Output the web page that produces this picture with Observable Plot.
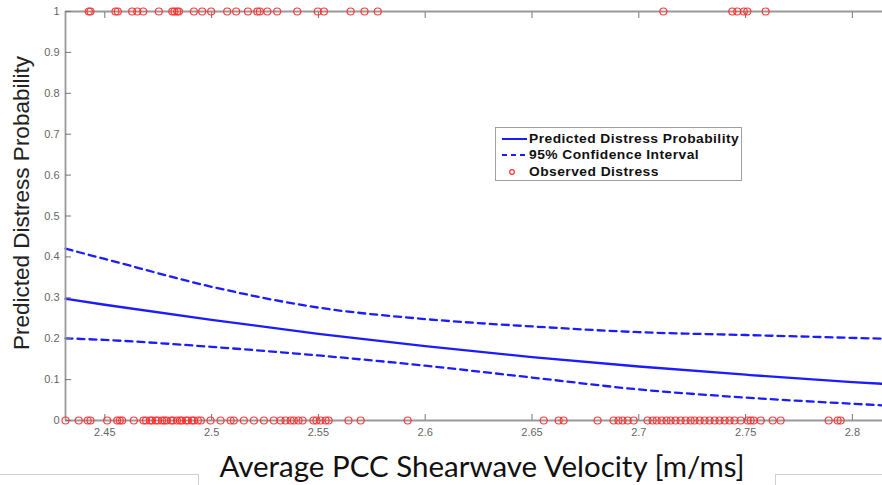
<!DOCTYPE html>
<html>
<head>
<meta charset="utf-8">
<script src="https://cdn.jsdelivr.net/npm/d3@7"></script>
<script src="https://cdn.jsdelivr.net/npm/@observablehq/plot@0.6"></script>
<style>
  html, body { margin: 0; padding: 0; background: #fff; }
  #wrap { position: relative; width: 882px; height: 485px; overflow: hidden; background: #fff; }
  #legend { position: absolute; left: 495px; top: 127px; width: 247px; height: 54px; box-sizing: border-box;
            border: 1.5px solid #a0a0a0; background: #fff; font-family: "Liberation Sans", Arial, sans-serif;
            font-weight: bold; font-size: 12px; color: #111; }
  #legend .row { position: absolute; left: 5px; height: 16px; display: flex; align-items: center; white-space: nowrap; }
  #legend .row span { margin-left: 2px; letter-spacing: 0.4px; display: inline-block; transform: scaleX(1.15); transform-origin: left center; }
  .deco { position: absolute; border-color: #cfcfcf; border-style: solid; border-width: 0; }
</style>
</head>
<body>
<div id="wrap"></div>
<script>
// ---- data ----
const xDomain = [2.4316, 2.8141];
const xTicks = [2.45, 2.5, 2.55, 2.6, 2.65, 2.7, 2.75, 2.8];
const yTicks = [0, 0.1, 0.2, 0.3, 0.4, 0.5, 0.6, 0.7, 0.8, 0.9, 1];

const curveX    = [2.4316, 2.45, 2.5, 2.55, 2.6, 2.65, 2.7, 2.75, 2.8, 2.8141];
const predicted = [0.2975, 0.283, 0.246, 0.212, 0.182, 0.155, 0.132, 0.112, 0.094, 0.0897];
const upperCI   = [0.420, 0.395, 0.327, 0.276, 0.248, 0.230, 0.216, 0.209, 0.202, 0.200];
const lowerCI   = [0.201, 0.197, 0.180, 0.159, 0.134, 0.105, 0.076, 0.056, 0.041, 0.037];

// observed distress = 1
const observedDistress = [2.4425, 2.4433, 2.4550, 2.4561, 2.4628, 2.4652, 2.4680, 2.4753, 2.4816, 2.4826,
  2.4839, 2.4847, 2.4917, 2.4956, 2.4998, 2.5073, 2.5115, 2.5170, 2.5214, 2.5226, 2.5261, 2.5307,
  2.5401, 2.5497, 2.5526, 2.5651, 2.5716, 2.5778, 2.7115, 2.7438, 2.7461, 2.7492, 2.7508, 2.7594];
// observed no distress = 0
const observedNoDistress = [2.4316, 2.4378, 2.4420, 2.4433, 2.4511, 2.4558, 2.4570, 2.4581, 2.4636,
  2.4681, 2.4693, 2.4712, 2.4721, 2.4738, 2.4749, 2.4768, 2.4779, 2.4790, 2.4811, 2.4820, 2.4838,
  2.4852, 2.4861, 2.4880, 2.4889, 2.4908, 2.4917, 2.4936, 2.4950, 2.4995, 2.5042, 2.5089, 2.5104,
  2.5151, 2.5198, 2.5245, 2.5291, 2.5323, 2.5346, 2.5370, 2.5385, 2.5407, 2.5426, 2.5477, 2.5491,
  2.5510, 2.5534, 2.5548, 2.5641, 2.5698, 2.5918, 2.6555, 2.6625, 2.6648, 2.6807, 2.6882, 2.6905,
  2.6924, 2.6948, 2.6976, 2.7041, 2.7065, 2.7084, 2.7107, 2.7130, 2.7149, 2.7172, 2.7196, 2.7219,
  2.7243, 2.7261, 2.7285, 2.7308, 2.7331, 2.7355, 2.7378, 2.7402, 2.7425, 2.7448, 2.7477, 2.7510,
  2.7524, 2.7538, 2.7571, 2.7627, 2.7664, 2.7889, 2.7931, 2.7945];

const xLabel = "Average PCC Shearwave Velocity [m/ms]";
const yLabel = "Predicted Distress Probability";
const legendLabels = ["Predicted Distress Probability", "95% Confidence Interval", "Observed Distress"];

// ---- build tables ----
const lineRows = curveX.map((x, i) => ({x, p: predicted[i], up: upperCI[i], lo: lowerCI[i]}));
const obs = [
  ...observedDistress.map(x => ({x, y: 1})),
  ...observedNoDistress.map(x => ({x, y: 0}))
];

const blue = "#1c1cff";
const axisGray = "#9a9a9a";
const fmt = d => String(d);

const chart = Plot.plot({
  width: 882,
  height: 485,
  marginLeft: 65,
  marginRight: 0,
  marginTop: 11,
  marginBottom: 65,
  x: {domain: xDomain},
  y: {domain: [0, 1]},
  style: {fontFamily: "'Liberation Sans', Arial, sans-serif", background: "transparent", overflow: "visible"},
  marks: [
    Plot.line(lineRows, {x: "x", y: "up", stroke: blue, strokeWidth: 2.3, strokeDasharray: "7,5", curve: "monotone-x"}),
    Plot.line(lineRows, {x: "x", y: "lo", stroke: blue, strokeWidth: 2.3, strokeDasharray: "7,5", curve: "monotone-x"}),
    Plot.line(lineRows, {x: "x", y: "p", stroke: blue, strokeWidth: 2.3, curve: "monotone-x"}),
    Plot.ruleY([0], {stroke: axisGray, strokeWidth: 1.8}),
    Plot.ruleY([1], {stroke: axisGray, strokeWidth: 1.8}),
    Plot.ruleX([xDomain[0]], {stroke: axisGray, strokeWidth: 1.8}),
    Plot.axisX(xTicks, {anchor: "bottom", tickSize: -6, tickPadding: 14, tickFormat: fmt, stroke: "#777", fill: "#666", fontSize: 11, label: null}),
    Plot.axisX(xTicks, {anchor: "top", tickSize: -6, stroke: "#777", text: null, label: null}),
    Plot.axisY(yTicks, {anchor: "left", tickSize: -6, tickPadding: 12, tickFormat: fmt, stroke: "#777", fill: "#666", fontSize: 11, label: null}),
    Plot.dot(obs, {x: "x", y: "y", r: 3.5, stroke: "#ff2a2a", strokeWidth: 1.2, strokeOpacity: 0.9, fill: "none"}),
    Plot.text([yLabel], {frameAnchor: "left", textAnchor: "middle", lineAnchor: "middle", rotate: -90, dx: -44, dy: -13, fontSize: 22.5, fill: "#222"}),
    Plot.text([xLabel], {frameAnchor: "bottom", lineAnchor: "bottom", dx: 8, dy: 56, fontSize: 29.5, fill: "#111", fontFamily: "Lato, 'Open Sans', sans-serif"})
  ]
});

const wrap = document.getElementById("wrap");
wrap.appendChild(chart);

// legend (HTML overlay)
const legend = document.createElement("div");
legend.id = "legend";
const sw = (inner) => `<svg width="26" height="10" style="display:block">${inner}</svg>`;
const rows = [
  sw(`<line x1="1" y1="5" x2="26" y2="5" stroke="${blue}" stroke-width="2"/>`),
  sw(`<line x1="1" y1="5" x2="26" y2="5" stroke="${blue}" stroke-width="2" stroke-dasharray="5,4"/>`),
  sw(`<circle cx="11" cy="5" r="2.3" fill="none" stroke="#ff2a2a" stroke-width="1.2"/>`)
];
const tops = [3, 19, 36];
legend.innerHTML = rows.map((s, i) =>
  `<div class="row" style="top:${tops[i]}px">${s}<span>${legendLabels[i]}</span></div>`).join("");
wrap.appendChild(legend);

// slide-frame remnants at the bottom
const d1 = document.createElement("div");
d1.className = "deco";
d1.style.cssText = "left:-2px;top:474px;width:200px;height:20px;border-top-width:1px;border-right-width:1px;";
wrap.appendChild(d1);
const d2 = document.createElement("div");
d2.className = "deco";
d2.style.cssText = "left:775px;top:474px;width:120px;height:20px;border-top-width:1px;border-left-width:1px;";
wrap.appendChild(d2);
</script>
</body>
</html>
